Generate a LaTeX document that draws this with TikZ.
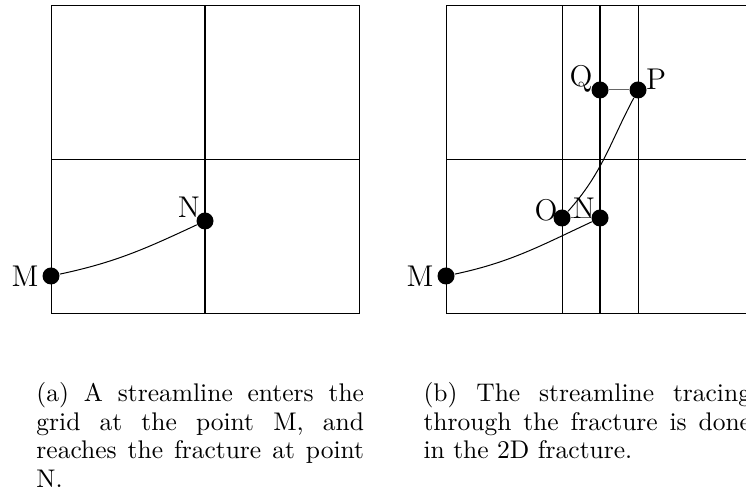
\documentclass[tikz,border=0pt]{standalone}
\begin{document}
\begin{tikzpicture}[x=0.4pt,y=-0.4pt,
  dot/.style={circle,fill,inner sep=0pt,minimum size=6.8pt},
  lbl/.style={font=\large,inner sep=0pt},
  fracture/.style={line width=0.8pt},
  caption/.style={anchor=base west,inner sep=0pt,font=\fontsize{10.2}{11.4}\selectfont}]
  \useasboundingbox (0,0) rectangle (746,504);
  % (a) streamline reaching the fracture
  \draw (51,6) rectangle (359,314);
  \draw (51,160) -- (359,160);
  \draw[fracture] (205,6) -- (205,314);
  \node[dot] (Ma) at (51,276) {};
  \node[dot] (Na) at (205,221) {};
  \draw (Ma) to[out=12,in=205] (Na);
  \node[lbl] (lMa) at (25,276) {M};
  \node[lbl] (lNa) at (189,207) {N};
  % (b) tracing inside the fracture
  \draw (446,6) rectangle (754,314);
  \draw (446,160) -- (754,160);
  \draw (562,6) -- (562,314);
  \draw (638,6) -- (638,314);
  \draw[fracture] (600,6) -- (600,314);
  \node[dot] (Mb) at (446,276) {};
  \node[dot] (Nb) at (600,218) {};
  \node[dot] (Ob) at (562,218) {};
  \node[dot] (Pb) at (638,90) {};
  \node[dot] (Qb) at (600,90) {};
  \draw (Mb) to[out=12,in=205] (Nb);
  \draw[black!60] (Nb) -- (Ob);
  \draw (Ob) to[out=48,in=242] (Pb);
  \draw[black!60] (Pb) -- (Qb);
  \node[lbl] (lMb) at (420,276) {M};
  \node[lbl] (lNb) at (584,208) {N};
  \node[lbl] (lOb) at (546,210) {O};
  \node[lbl] (lPb) at (656,79) {P};
  \node[lbl] (lQb) at (581,79) {Q};
  % captions
  \node[caption] (capa) at (36,402) {\parbox[t]{131pt}{(a) A streamline enters the
    grid at the point M, and reaches the fracture at point N.}};
  \node[caption] (capb) at (423,402) {\parbox[t]{131pt}{(b) The streamline tracing
    through the fracture is done in the 2D fracture.}};
\end{tikzpicture}
\end{document}
